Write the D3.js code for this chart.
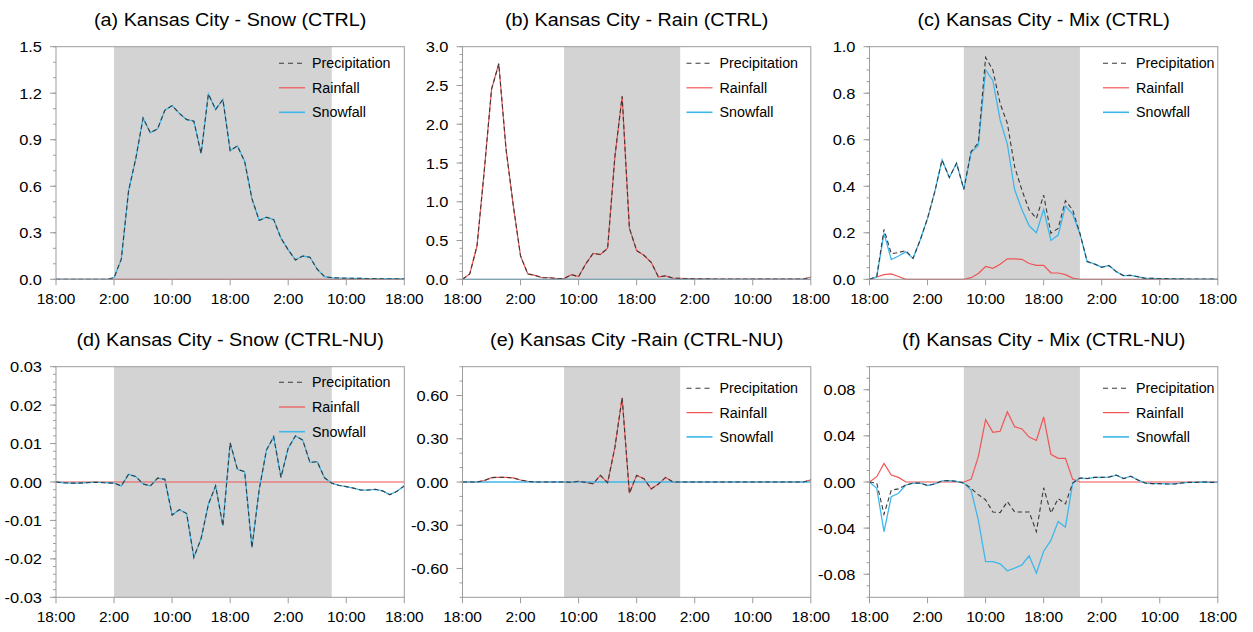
<!DOCTYPE html>
<html><head><meta charset="utf-8">
<script src="https://cdn.jsdelivr.net/npm/d3@7"></script>
<style>
body{margin:0;background:#fff}
svg{display:block}
text{font-family:"Liberation Sans",Arial,Helvetica,sans-serif;fill:#000}
</style>
</head><body>
<svg id="chart" width="1253" height="632"></svg>
<script>
// ---------------- DATA ----------------
const hours = [0,1,2,3,4,5,6,7,8,9,10,11,12,13,14,15,16,17,18,19,20,21,22,23,24,25,26,27,28,29,30,31,32,33,34,35,36,37,38,39,40,41,42,43,44,45,46,47,48];
const xTickHours = [0,8,16,24,32,40,48];
const xTickLabels = ["18:00","2:00","10:00","18:00","2:00","10:00","18:00"];
const seriesNames = ["Precipitation","Rainfall","Snowfall"];

// (a) Snow CTRL
const snowCtrlPrecip = [0,0,0,0,0,0,0,0,0.01,0.13,0.57,0.78,1.04,0.945,0.97,1.09,1.12,1.07,1.03,1.02,0.81,1.195,1.095,1.16,0.83,0.86,0.76,0.52,0.38,0.40,0.385,0.265,0.19,0.125,0.15,0.142,0.065,0.017,0.01,0.008,0.007,0.006,0.006,0.005,0.005,0.004,0.004,0.004,0.003];
const snowCtrlRain   = [0,0,0,0,0,0,0,0,0,0,0,0,0,0,0,0,0,0,0,0,0,0,0,0,0,0,0,0,0,0,0,0,0,0,0,0,0,0,0,0,0,0,0,0,0,0,0,0,0];
const snowCtrlSnow   = [0,0,0,0,0,0,0,0,0.01,0.13,0.57,0.78,1.04,0.945,0.97,1.09,1.12,1.07,1.03,1.02,0.81,1.195,1.095,1.16,0.83,0.86,0.76,0.52,0.38,0.40,0.385,0.265,0.19,0.125,0.15,0.142,0.065,0.017,0.01,0.008,0.007,0.006,0.006,0.005,0.005,0.004,0.004,0.004,0.003];

// (b) Rain CTRL
const rainCtrlPrecip = [0,0.07,0.43,1.4,2.45,2.78,1.68,0.95,0.3,0.07,0.05,0.02,0.02,0.01,0.01,0.06,0.035,0.2,0.335,0.32,0.4,1.58,2.36,0.66,0.37,0.31,0.22,0.03,0.045,0.015,0.012,0.01,0.006,0.005,0.005,0.004,0.004,0.003,0.003,0.003,0.003,0.002,0.002,0.002,0.002,0.002,0.002,0.002,0.03];
const rainCtrlRain   = [0,0.07,0.43,1.4,2.45,2.78,1.68,0.95,0.3,0.07,0.05,0.02,0.02,0.01,0.01,0.06,0.035,0.2,0.335,0.32,0.4,1.58,2.36,0.66,0.37,0.31,0.22,0.03,0.045,0.015,0.012,0.01,0.006,0.005,0.005,0.004,0.004,0.003,0.003,0.003,0.003,0.002,0.002,0.002,0.002,0.002,0.002,0.002,0.03];
const rainCtrlSnow   = [0,0,0,0,0,0,0,0,0,0,0,0,0,0,0,0,0,0,0,0,0,0,0,0,0,0,0,0,0,0,0,0,0,0,0,0,0,0,0,0,0,0,0,0,0,0,0,0,0];

// (c) Mix CTRL
const mixCtrlPrecip = [0,0.012,0.215,0.11,0.115,0.123,0.09,0.17,0.262,0.377,0.513,0.438,0.499,0.387,0.549,0.587,0.954,0.9,0.756,0.67,0.484,0.384,0.298,0.262,0.362,0.198,0.219,0.338,0.298,0.198,0.076,0.066,0.052,0.059,0.033,0.016,0.017,0.011,0.004,0.004,0.003,0.003,0.002,0.002,0.001,0.001,0.001,0.001,0];
const mixCtrlRain   = [0,0.01,0.02,0.023,0.012,0,0,0,0,0,0,0,0,0,0.007,0.025,0.055,0.047,0.065,0.088,0.088,0.086,0.068,0.06,0.06,0.028,0.027,0.02,0.005,0,0,0,0,0,0,0,0,0,0,0,0,0,0,0,0,0,0,0,0];
const mixCtrlSnow   = [0,0.01,0.198,0.085,0.1,0.118,0.09,0.17,0.262,0.377,0.513,0.438,0.499,0.387,0.546,0.574,0.9,0.855,0.685,0.58,0.385,0.3,0.23,0.2,0.3,0.167,0.19,0.315,0.28,0.195,0.076,0.066,0.052,0.059,0.033,0.016,0.017,0.011,0.004,0.004,0.003,0.003,0.002,0.002,0.001,0.001,0.001,0.001,0];

// (d) Snow CTRL-NU
const snowDiffPrecip = [0,-0.0002,-0.0003,-0.0003,-0.0002,-0.0001,-0.0001,-0.0002,-0.0003,-0.001,0.002,0.0014,-0.0005,-0.001,0.001,0.0007,-0.0086,-0.0072,-0.0082,-0.0196,-0.0147,-0.0058,-0.001,-0.0114,0.0102,0.0033,0.0027,-0.0171,-0.002,0.0083,0.0118,0.0012,0.0088,0.012,0.0109,0.0051,0.0053,0.0011,-0.0003,-0.0009,-0.0012,-0.0016,-0.0021,-0.0021,-0.0019,-0.0023,-0.0033,-0.0024,-0.001];
const snowDiffRain   = [0,0,0,0,0,0,0,0,0,0,0,0,0,0,0,0,0,0,0,0,0,0,0,0,0,0,0,0,0,0,0,0,0,0,0,0,0,0,0,0,0,0,0,0,0,0,0,0,0];
const snowDiffSnow   = [0,-0.0002,-0.0003,-0.0003,-0.0002,-0.0001,-0.0001,-0.0002,-0.0003,-0.001,0.002,0.0014,-0.0005,-0.001,0.001,0.0007,-0.0086,-0.0072,-0.0082,-0.0196,-0.0147,-0.0058,-0.001,-0.0114,0.0102,0.0033,0.0027,-0.0171,-0.002,0.0083,0.0118,0.0012,0.0088,0.012,0.0109,0.0051,0.0053,0.0011,-0.0003,-0.0009,-0.0012,-0.0016,-0.0021,-0.0021,-0.0019,-0.0023,-0.0033,-0.0024,-0.001];

// (e) Rain CTRL-NU
const rainDiffPrecip = [0,0,0,0.01,0.03,0.033,0.032,0.028,0.014,0.004,0,0,0,0,0,-0.002,0.005,-0.003,-0.012,0.046,-0.005,0.24,0.585,-0.078,0.046,0.023,-0.048,-0.014,0.032,0,0,0,0,0,0,0,0,0,0,0,0,0,0,0,0,0,0,0,0.015];
const rainDiffRain   = [0,0,0,0.01,0.03,0.033,0.032,0.028,0.014,0.004,0,0,0,0,0,-0.002,0.005,-0.003,-0.012,0.046,-0.005,0.24,0.585,-0.078,0.046,0.023,-0.048,-0.014,0.032,0,0,0,0,0,0,0,0,0,0,0,0,0,0,0,0,0,0,0,0.015];
const rainDiffSnow   = [0,0,0,0,0,0,0,0,0,0,0,0,0,0,0,0,0,0,0,0,0,0,0,0,0,0,0,0,0,0,0,0,0,0,0,0,0,0,0,0,0,0,0,0,0,0,0,0,0];

// (f) Mix CTRL-NU
const mixDiffPrecip = [0,-0.001,-0.028,-0.007,-0.006,-0.0026,-0.001,-0.001,-0.003,-0.0017,0.001,0.0012,0.0006,-0.001,-0.0055,-0.011,-0.0155,-0.026,-0.0265,-0.017,-0.026,-0.026,-0.026,-0.043,-0.005,-0.027,-0.0144,-0.019,-0.001,0.0035,0.003,0.004,0.004,0.0043,0.006,0.003,0.005,0.0017,-0.0009,-0.0014,-0.0014,-0.0017,-0.0017,-0.0009,-0.0003,-0.0003,0,-0.0003,-0.0003];
const mixDiffRain   = [0,0.0046,0.016,0.006,0.004,0,0,0,0,0,0,0,0,0,0.0023,0.022,0.054,0.043,0.044,0.061,0.048,0.046,0.039,0.036,0.0565,0.024,0.0205,0.0205,0.0023,0,0,0,0,0,0,0,0,0,0,0,0,0,0,0,0,0,0,0,0];
const mixDiffSnow   = [0,-0.0055,-0.043,-0.0127,-0.0098,-0.0026,-0.001,-0.001,-0.003,-0.0017,0.001,0.0012,0.0006,-0.001,-0.007,-0.033,-0.069,-0.069,-0.071,-0.077,-0.0747,-0.072,-0.064,-0.079,-0.06,-0.0507,-0.0343,-0.039,-0.001,0.0035,0.003,0.004,0.004,0.0043,0.006,0.003,0.005,0.0017,-0.0009,-0.0014,-0.0014,-0.0017,-0.0017,-0.0009,-0.0003,-0.0003,0,-0.0003,-0.0003];

// shaded periods (hours from first 18:00)
const shadeSnow = [8,38];
const shadeRain = [14,30];
const shadeMix  = [13,29];

// y-axis ticks
const yTicksA = [0,0.3,0.6,0.9,1.2,1.5];
const yTicksB = [0,0.5,1.0,1.5,2.0,2.5,3.0];
const yTicksC = [0,0.2,0.4,0.6,0.8,1.0];
const yTicksD = [-0.03,-0.02,-0.01,0,0.01,0.02,0.03];
const yTicksE = [-0.6,-0.3,0,0.3,0.6];
const yTicksF = [-0.08,-0.04,0,0.04,0.08];

const titles = ["(a) Kansas City - Snow (CTRL)","(b) Kansas City - Rain (CTRL)","(c) Kansas City - Mix (CTRL)",
                "(d) Kansas City - Snow (CTRL-NU)","(e) Kansas City -Rain (CTRL-NU)","(f) Kansas City - Mix (CTRL-NU)"];

// ---------------- LAYOUT ----------------
const colLeft = [56, 462.5, 869.5];
const plotW = 348.3;
const rowTop = [46.7, 366.7];
const rowH = [232.6, 230.6];
const colors = {precip:"#3a3a3a", rain:"#f05555", snow:"#3fb7ea", frame:"#9c9c9c", shade:"#d3d3d3"};

const panels = [
  {r:0,c:0,title:titles[0],p:snowCtrlPrecip,ra:snowCtrlRain,s:snowCtrlSnow,shade:shadeSnow,dom:[0,1.5],ticks:yTicksA,minor:0.1,dec:1,leg:[223,16.6,24.5]},
  {r:0,c:1,title:titles[1],p:rainCtrlPrecip,ra:rainCtrlRain,s:rainCtrlSnow,shade:shadeRain,dom:[0,3],ticks:yTicksB,minor:0.1,dec:1,leg:[224,16.6,24.5]},
  {r:0,c:2,title:titles[2],p:mixCtrlPrecip,ra:mixCtrlRain,s:mixCtrlSnow,shade:shadeMix,dom:[0,1],ticks:yTicksC,minor:0.05,dec:1,leg:[233.5,16.6,24.5]},
  {r:1,c:0,title:titles[3],p:snowDiffPrecip,ra:snowDiffRain,s:snowDiffSnow,shade:shadeSnow,dom:[-0.03,0.03],ticks:yTicksD,minor:0.002,dec:2,leg:[223,15.6,24.7]},
  {r:1,c:1,title:titles[4],p:rainDiffPrecip,ra:rainDiffRain,s:rainDiffSnow,shade:shadeRain,dom:[-0.8,0.8],ticks:yTicksE,minor:0.1,dec:2,leg:[224,21.6,24.3]},
  {r:1,c:2,title:titles[5],p:mixDiffPrecip,ra:mixDiffRain,s:mixDiffSnow,shade:shadeMix,dom:[-0.1,0.1],ticks:yTicksF,minor:0.01,dec:2,leg:[233.5,21.6,24.3]}
];

const svg = d3.select("#chart");

function txt(g, x, y, s, size, sx, anchor){
  g.append("g").attr("transform",`translate(${x},${y}) scale(${sx},1)`)
   .append("text").attr("text-anchor",anchor).attr("font-size",size).text(s);
}

panels.forEach(P=>{
  const x0 = colLeft[P.c], y0 = rowTop[P.r], h = rowH[P.r];
  const g = svg.append("g").attr("transform",`translate(${x0},${y0})`);
  const x = d3.scaleLinear().domain([0,48]).range([0,plotW]);
  const y = d3.scaleLinear().domain(P.dom).range([h,0]);

  // shading
  g.append("rect").attr("x",x(P.shade[0])).attr("y",0)
   .attr("width",x(P.shade[1])-x(P.shade[0])).attr("height",h).attr("fill",colors.shade);

  // lines
  const line = d3.line().x((d,i)=>x(hours[i])).y(d=>y(d));
  g.append("path").datum(P.ra).attr("d",line).attr("fill","none").attr("stroke",colors.rain).attr("stroke-width",1.2);
  g.append("path").datum(P.s).attr("d",line).attr("fill","none").attr("stroke",colors.snow).attr("stroke-width",1.3);
  g.append("path").datum(P.p).attr("d",line).attr("fill","none").attr("stroke",colors.precip).attr("stroke-width",1.1).attr("stroke-dasharray","4.5,3");

  // frame
  g.append("rect").attr("x",0).attr("y",0).attr("width",plotW).attr("height",h)
   .attr("fill","none").attr("stroke",colors.frame).attr("stroke-width",1);

  // y minor ticks
  const nMinor = Math.round((P.dom[1]-P.dom[0])/P.minor);
  const minorVals = d3.range(nMinor+1).map(i=>P.dom[0]+i*P.minor);
  g.selectAll(".ymin").data(minorVals).enter().append("line")
   .attr("x1",-3).attr("x2",0).attr("y1",d=>y(d)).attr("y2",d=>y(d))
   .attr("stroke",colors.frame).attr("stroke-width",1);
  // y major ticks + labels
  const fmt = v => (Math.abs(v)<1e-9?0:v).toFixed(P.dec);
  P.ticks.forEach(v=>{
    g.append("line").attr("x1",-6).attr("x2",0).attr("y1",y(v)).attr("y2",y(v)).attr("stroke",colors.frame).attr("stroke-width",1);
    txt(g,-14,y(v)+5.5,fmt(v),15.5,1.06,"end");
  });
  // x ticks + labels
  xTickHours.forEach((hv,i)=>{
    g.append("line").attr("x1",x(hv)).attr("x2",x(hv)).attr("y1",h).attr("y2",h+6).attr("stroke",colors.frame).attr("stroke-width",1);
    txt(g,x(hv),h+24.5,xTickLabels[i],15,1.03,"middle");
  });

  // title
  txt(g,plotW/2,-21,P.title,17.5,1.13,"middle");

  // legend
  const [lx,ly,dy] = P.leg;
  const keys = [["precip",colors.precip,"5,4",1.1],["rain",colors.rain,null,1.2],["snow",colors.snow,null,1.6]];
  keys.forEach((k,i)=>{
    const yy = ly+i*dy;
    const ln = g.append("line").attr("x1",lx).attr("x2",lx+26).attr("y1",yy).attr("y2",yy)
      .attr("stroke",k[1]).attr("stroke-width",k[3]);
    if(k[2]) ln.attr("stroke-dasharray",k[2]);
    txt(g,lx+33,yy+5,seriesNames[i],14,1.02,"start");
  });
});
</script>
</body></html>
